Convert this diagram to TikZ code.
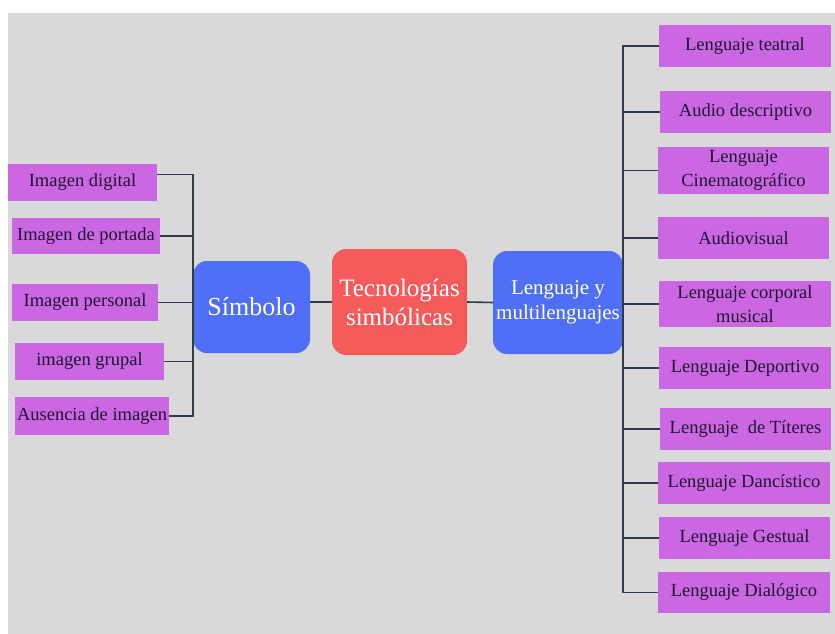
\documentclass[tikz,border=0pt]{standalone}
\usepackage{fontspec}
\setmainfont{Liberation Serif}
\usetikzlibrary{calc}
\definecolor{fondo}{HTML}{D9D9D9}
\definecolor{lila}{HTML}{CB67E2}
\definecolor{azul}{HTML}{4F6FF6}
\definecolor{rojo}{HTML}{F65B5B}
\definecolor{linea}{HTML}{2F3B4A}
\definecolor{tinta}{HTML}{1E1630}
\tikzset{
  % caja lila de cada rama (hoja del mapa)
  hoja/.style={fill=lila, text=tinta, inner sep=1pt,
    align=center, font=\fontsize{18.5}{24}\selectfont},
  % nodos centrales redondeados
  centro/.style={rounded corners=14pt, text=white, inner sep=2pt,
    align=center},
  rama/.style={draw=linea, line width=1.6pt},
}
\newcommand{\hoja}[5]{%
  \node[hoja, minimum width=#3pt, minimum height=#4pt] (#1) at (#2) {#5};}

\begin{document}
\begin{tikzpicture}[x=1pt,y=-1pt]
\useasboundingbox (0,0) rectangle (835,634);
\fill[fondo] (8,13) rectangle (835,634);

% ----- centro -----
\node[centro, fill=azul, minimum width=117pt, minimum height=92pt,
  font=\fontsize{26}{30}\selectfont] (simbolo) at (251.5,307) {Símbolo};
\node[centro, fill=rojo, minimum width=135pt, minimum height=106pt,
  font=\fontsize{25}{29}\selectfont] (tecno) at (399.5,302) {Tecnologías\\simbólicas};
\node[centro, fill=azul, minimum width=130pt, minimum height=103pt,
  font=\fontsize{21}{25}\selectfont] (lengua) at (558,302.5) {Lenguaje y\\multilenguajes};

% ----- ramas de Símbolo -----
\hoja{digital}{82.5,182.5}{149}{37}{Imagen digital}
\hoja{portada}{86,236}{148}{36}{Imagen de portada}
\hoja{personal}{85,302.5}{146}{37}{Imagen personal}
\hoja{grupal}{89.5,361.5}{149}{37}{imagen grupal}
\hoja{ausencia}{92,416}{154}{38}{Ausencia de imagen}

% ----- ramas de Lenguaje y multilenguajes -----
\hoja{teatral}{745,46}{172}{42}{Lenguaje teatral}
\hoja{audio}{745.5,112}{171}{42}{Audio descriptivo}
\hoja{cine}{743.5,170.5}{171}{47}{Lenguaje\\Cinematográfico}
\hoja{audiovisual}{743.5,238}{171}{42}{Audiovisual}
\hoja{corporal}{745,304}{172}{46}{Lenguaje corporal\\musical}
\hoja{deportivo}{745,368}{172}{42}{Lenguaje Deportivo}
\hoja{titeres}{745.5,429}{171}{42}{Lenguaje \ de Títeres}
\hoja{dancistico}{744,483}{172}{42}{Lenguaje Dancístico}
\hoja{gestual}{744.5,538}{171}{42}{Lenguaje Gestual}
\hoja{dialogico}{744,592.5}{172}{41}{Lenguaje Dialógico}

% ----- conectores -----
\draw[rama] (tecno.west -| simbolo.east) -- (tecno.west);
\draw[rama] (tecno.east) -- (lengua.west);
\draw[rama] ([yshift=8pt]digital.east) -| (simbolo.west);
\foreach \n in {portada,personal,grupal,ausencia}
  \draw[rama] (\n.east) -| (simbolo.west);
\foreach \n in {teatral,audio,cine,audiovisual,corporal,
                deportivo,titeres,dancistico,gestual,dialogico}
  \draw[rama] (\n.west) -| (lengua.east);

\end{tikzpicture}
\end{document}
